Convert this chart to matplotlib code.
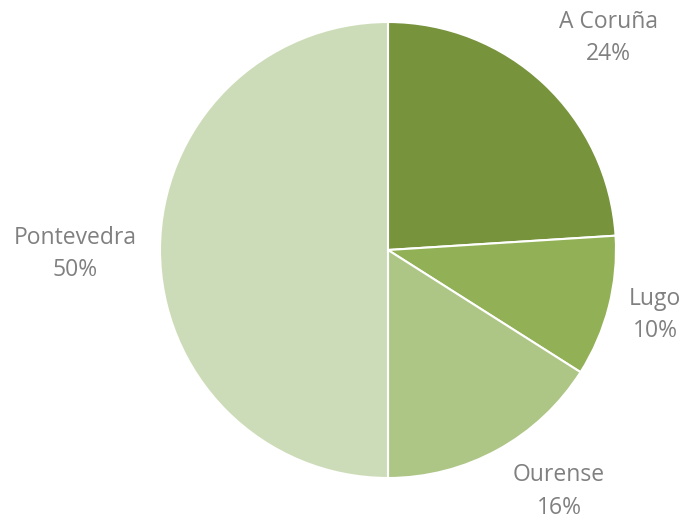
import matplotlib
matplotlib.use("Agg")
import matplotlib.pyplot as plt

provincias = ["A Coruña", "Lugo", "Ourense", "Pontevedra"]
porcentajes = [24, 10, 16, 50]
colores = ["#77933C", "#92B156", "#ADC686", "#CDDCB8"]

fig = plt.figure(figsize=(6.84, 5.22), dpi=100)
ax = fig.add_axes([160 / 684, 44 / 522, 456 / 684, 456 / 522])
ax.pie(porcentajes, colors=colores, startangle=90, counterclock=False,
       wedgeprops=dict(edgecolor="white", linewidth=1.5))
ax.set_xlim(-1, 1)
ax.set_ylim(-1, 1)
ax.set_aspect("equal")

# posiciones de las etiquetas (coordenadas de datos)
pos_etiquetas = [(0.965, 0.93), (1.171, -0.285), (0.75, -1.06), (-1.373, -0.018)]
for nombre, pct, (x, y) in zip(provincias, porcentajes, pos_etiquetas):
    ax.text(x, y, f"{nombre}\n{pct}%", ha="center", va="center",
            fontsize=16.5, color="#808080", family="Open Sans", linespacing=1.48,
            clip_on=False)

fig.savefig("out.png", dpi=100)
